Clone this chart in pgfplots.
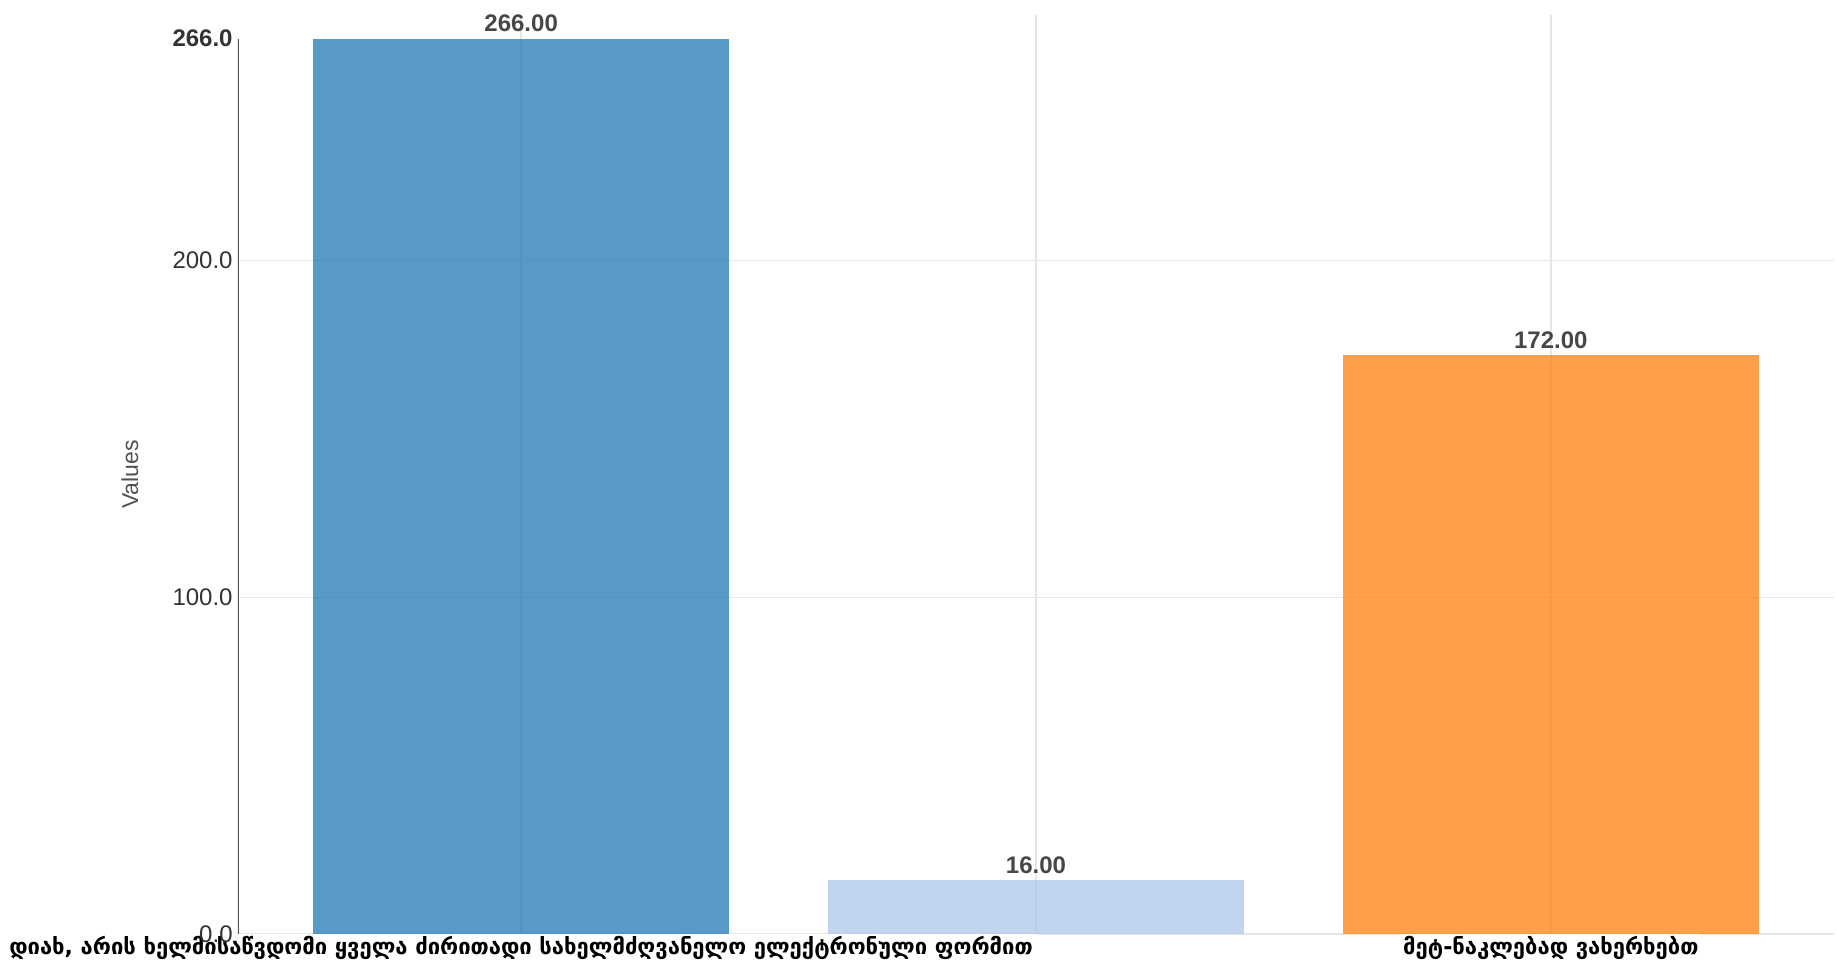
\documentclass[border=0pt]{standalone}
\usepackage{fontspec}
\setmainfont{Liberation Sans}
\newfontfamily\geo{DejaVu Sans}
\usepackage{pgfplots}
\pgfplotsset{compat=1.18}
\usetikzlibrary{calc}

\definecolor{cblue}{HTML}{1F77B4}
\definecolor{clight}{HTML}{AEC7E8}
\definecolor{corange}{HTML}{FF7F0E}
\definecolor{gridc}{HTML}{E6E6E6}
\definecolor{labc}{HTML}{333333}
\definecolor{axc}{HTML}{555555}

\begin{document}
\begin{tikzpicture}
\begin{axis}[
    name=ax, at={(0,0)}, anchor=south west,
    scale only axis, width=798pt, height=459.5pt,
    ybar, bar width=0.808, bar shift=0pt,
    xmin=-0.55, xmax=2.55, ymin=0, ymax=273,
    axis line style={draw=none},
    major tick length=0pt,
    xtick={0,1,2},
    xticklabels={{დიახ, არის ხელმისაწვდომი ყველა ძირითადი სახელმძღვანელო ელექტრონული ფორმით},{},{მეტ-ნაკლებად ვახერხებთ}},
    xticklabel style={font=\geo\bfseries\fontsize{11}{12}\selectfont, text=black, fill=white, inner sep=1pt},
    ytick={0,100,200}, yticklabels={0.0,100.0,200.0},
    extra y ticks={266}, extra y tick labels={\textbf{266.0}},
    extra y tick style={grid=none},
    yticklabel style={font=\fontsize{12}{14}\selectfont, text=labc, inner xsep=2.5pt},
    xmajorgrids, ymajorgrids,
    grid style={color=gridc, line width=0.7pt},
    ylabel={Values},
    ylabel style={at={($(rel axis cs:0,0.5)+(-54pt,0pt)$)}, anchor=center, font=\fontsize{11.5}{13}\selectfont, text=labc!85!white},
    /pgf/number format/assume math mode=true,
    nodes near coords={\pgfmathprintnumber[fixed,fixed zerofill,precision=2]{\pgfplotspointmeta}},
    nodes near coords style={font=\bfseries\fontsize{12}{14}\selectfont, text=labc!90!white, inner sep=3pt},
]
\addplot[fill=cblue, fill opacity=0.75, text opacity=1, draw=none] coordinates {(0,266)};
\addplot[fill=clight, fill opacity=0.75, text opacity=1, draw=none] coordinates {(1,16)};
\addplot[fill=corange, fill opacity=0.75, text opacity=1, draw=none] coordinates {(2,172)};
\draw[axc, line width=0.8pt] (axis cs:-0.55,0) -- (axis cs:-0.55,266);
\end{axis}
\pgfresetboundingbox
\path (-119pt,-19pt) rectangle (799.5pt,467pt);
\end{tikzpicture}
\end{document}
